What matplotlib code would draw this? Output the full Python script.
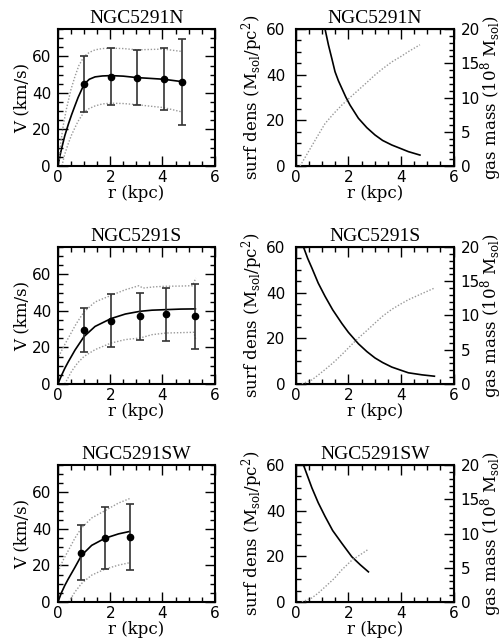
import matplotlib
matplotlib.use('Agg')
import matplotlib.pyplot as plt
from matplotlib.ticker import MultipleLocator

# ---- rotation curve data (r in kpc, V in km/s) ----
names = ['NGC5291N', 'NGC5291S', 'NGC5291SW']

obs_r = [[1.0, 2.03, 3.03, 4.04, 4.75],
         [1.0, 2.03, 3.15, 4.14, 5.26],
         [0.9, 1.8, 2.74]]
obs_v = [[44.8, 49.0, 48.4, 47.5, 46.2],
         [29.4, 34.7, 37.0, 38.1, 37.0],
         [27.0, 34.9, 35.7]]
obs_lo = [[29.6, 33.6, 33.3, 30.7, 22.5],
          [17.3, 20.1, 23.9, 23.7, 19.2],
          [11.9, 18.0, 17.5]]
obs_hi = [[60.0, 64.4, 63.4, 64.4, 69.8],
          [41.4, 49.1, 50.0, 52.6, 54.6],
          [41.9, 52.0, 53.7]]

# model curve and its upper / lower envelope
mod_r = [[0, 0.06, 0.13, 0.26, 0.4, 0.52, 0.65, 0.77, 1.0, 1.2, 1.42, 1.7, 2.03, 2.5, 3.03, 3.5, 4.04, 4.75],
         [0, 0.13, 0.26, 0.39, 0.65, 1.0, 1.42, 2.03, 2.58, 3.15, 3.6, 4.14, 4.7, 5.26],
         [0, 0.13, 0.26, 0.39, 0.65, 0.9, 1.29, 1.8, 2.32, 2.74]]
mod_v = [[0, 4.5, 9, 16.5, 23, 28, 33, 37.5, 44.8, 47.5, 48.8, 49.3, 49.5, 49.2, 48.4, 48.0, 47.5, 46.2],
         [0, 4.5, 8.5, 12, 18.5, 26, 31.5, 35.8, 38.3, 39.8, 40.4, 40.7, 41.0, 41.1],
         [0, 5, 9, 12.5, 19, 25.5, 31, 34.9, 37.3, 38.6]]

up_r = [[0.02, 0.1, 0.2, 0.32, 0.5, 0.65, 0.8, 1.0, 1.2, 1.42, 1.7, 2.03, 2.5, 3.03, 3.5, 4.04, 4.75],
        [0.03, 0.2, 0.39, 0.7, 1.0, 1.42, 2.03, 2.58, 3.1, 3.25, 3.7, 4.14, 4.7, 5.15, 5.28],
        [0.0, 0.2, 0.39, 0.65, 0.9, 1.29, 1.8, 2.32, 2.74]]
up_v = [[0, 12, 22, 31, 42, 49, 55, 60, 62.2, 63.6, 64.3, 64.5, 64.3, 63.6, 63.8, 64.0, 62.7],
        [15, 20, 25, 33, 39.5, 44.9, 48.5, 51.6, 53.8, 52.5, 53.2, 53.5, 53.6, 53.8, 58],
        [16.5, 23, 28, 35, 40.5, 46, 50, 54.2, 56.6]]

lo_r = [[0.15, 0.26, 0.4, 0.52, 0.65, 0.77, 1.0, 1.2, 1.42, 1.7, 2.03, 2.5, 3.03, 3.5, 4.04, 4.75],
        [0.26, 0.52, 0.75, 1.0, 1.42, 2.03, 2.58, 3.15, 3.6, 4.14, 4.7, 5.2, 5.28],
        [0.41, 0.65, 0.9, 1.29, 1.8, 2.32, 2.74]]
lo_v = [[0, 6.5, 12.5, 17, 21, 24.5, 29.6, 31.5, 32.9, 34.0, 34.4, 34.2, 33.6, 32.8, 32.0, 29.6],
        [0, 6.9, 11.5, 15.1, 18.8, 22.4, 24.3, 25.2, 27.0, 27.9, 28.1, 28.3, 24.0],
        [0, 5.5, 10.1, 14.7, 18.0, 20.2, 21.5]]

# ---- gas surface density (Msol/pc^2) and cumulative gas mass (1e8 Msol) ----
sd_r = [[1.11, 1.24, 1.37, 1.49, 1.62, 1.75, 1.9, 2.06, 2.38, 2.7, 3.01, 3.3, 3.65, 4.0, 4.28, 4.72],
        [0.29, 0.45, 0.61, 0.85, 1.11, 1.4, 1.75, 2.0, 2.38, 2.7, 3.01, 3.3, 3.65, 4.0, 4.28, 4.8, 5.27],
        [0.29, 0.45, 0.61, 0.85, 1.11, 1.4, 1.75, 2.13, 2.45, 2.76]]
sd_v = [[60, 53, 47, 41.3, 37.3, 34, 30.2, 26.7, 20.9, 16.8, 13.6, 11.2, 9.2, 7.6, 6.3, 4.8],
        [60, 55, 50.8, 44.2, 38.4, 32.5, 26.5, 22.6, 17.6, 14.2, 11.4, 9.4, 7.4, 6.0, 4.9, 4.0, 3.4],
        [60, 55, 50.0, 43.5, 37.5, 31.3, 25.7, 19.8, 16.3, 13.2]]

mass_r = [[0.16, 0.48, 0.8, 1.11, 1.45, 1.75, 2.06, 2.38, 2.7, 3.01, 3.3, 3.65, 4.0, 4.28, 4.72],
          [0.23, 0.61, 0.85, 1.11, 1.45, 1.75, 2.19, 2.38, 2.7, 3.01, 3.3, 3.65, 4.0, 4.28, 4.8, 5.27],
          [0.23, 0.61, 0.85, 1.11, 1.45, 1.75, 2.13, 2.45, 2.76]]
mass_v = [[0, 2.1, 4.2, 6.2, 7.7, 8.9, 10.0, 11.1, 12.2, 13.3, 14.2, 15.2, 16.0, 16.7, 17.7],
          [0, 0.6, 1.3, 2.1, 3.2, 4.3, 6.0, 6.7, 7.8, 8.9, 9.9, 10.9, 11.7, 12.3, 13.2, 14.0],
          [0, 0.6, 1.3, 2.2, 3.4, 4.7, 6.1, 6.9, 7.7]]

plt.rcParams['mathtext.fontset'] = 'dejavuserif'
label_font = dict(family='DejaVu Serif', size=12)
title_font = dict(family='Liberation Serif', size=14)
tick_size = 11
dot_style = (0, (1, 1.3))

fig = plt.figure(figsize=(5.04, 6.42), dpi=100)

bottoms = [0.7414, 0.4019, 0.0623]
height = 0.2134


def style_axis(ax, ypad):
    ax.tick_params(which='both', direction='in', top=True, right=True, labelsize=tick_size)
    ax.tick_params(axis='x', pad=3)
    ax.tick_params(axis='y', pad=ypad)
    ax.tick_params(which='major', length=7, width=1)
    ax.tick_params(which='minor', length=3.5, width=1)
    for s in ax.spines.values():
        s.set_linewidth(1.5)
    ax.set_xlim(0, 6)
    ax.xaxis.set_major_locator(MultipleLocator(2))
    ax.xaxis.set_minor_locator(MultipleLocator(0.5))
    ax.set_xlabel('r (kpc)', fontdict=label_font, labelpad=0)


for i in range(3):
    # left: rotation curve
    ax = fig.add_axes([0.115, bottoms[i], 0.311, height])
    style_axis(ax, 5)
    ax.set_ylim(0, 75)
    ax.yaxis.set_major_locator(MultipleLocator(20))
    ax.yaxis.set_minor_locator(MultipleLocator(5))
    ax.plot(mod_r[i], mod_v[i], color='black', lw=1.2)
    ax.plot(up_r[i], up_v[i], color='#999999', lw=1, ls=dot_style)
    ax.plot(lo_r[i], lo_v[i], color='#999999', lw=1, ls=dot_style)
    yerr = [[v - lo for v, lo in zip(obs_v[i], obs_lo[i])],
            [hi - v for v, hi in zip(obs_v[i], obs_hi[i])]]
    ax.errorbar(obs_r[i], obs_v[i], yerr=yerr, fmt='o', color='black', ecolor='#333333',
                ms=4.5, elinewidth=1.2, capsize=3, capthick=1.2)
    ax.set_ylabel('V (km/s)', fontdict=label_font, labelpad=1)
    ax.set_title(names[i], fontdict=title_font, pad=4)

    # right: surface density and gas mass
    ax2 = fig.add_axes([0.587, bottoms[i], 0.313, height])
    style_axis(ax2, 7.5)
    ax2.tick_params(which='both', right=False)
    ax2.set_ylim(0, 60)
    ax2.yaxis.set_major_locator(MultipleLocator(20))
    ax2.yaxis.set_minor_locator(MultipleLocator(5))
    ax2.plot(sd_r[i], sd_v[i], color='black', lw=1.2)
    ax2.set_ylabel(r'surf dens (M$_{\rm sol}$/pc$^2$)', fontdict=label_font, labelpad=1)
    ax2.set_title(names[i], fontdict=title_font, pad=4)

    ax3 = ax2.twinx()
    ax3.set_ylim(0, 20)
    ax3.yaxis.set_major_locator(MultipleLocator(5))
    ax3.yaxis.set_minor_locator(MultipleLocator(1))
    ax3.tick_params(which='both', direction='in', labelsize=tick_size, pad=5)
    ax3.tick_params(which='major', length=7, width=1)
    ax3.tick_params(which='minor', length=3.5, width=1)
    ax3.plot(mass_r[i], mass_v[i], color='#999999', lw=1, ls=dot_style)
    ax3.set_ylabel(r'gas mass (10$^8$ M$_{\rm sol}$)', fontdict=label_font, labelpad=-1)

fig.savefig('out.png', dpi=100)
